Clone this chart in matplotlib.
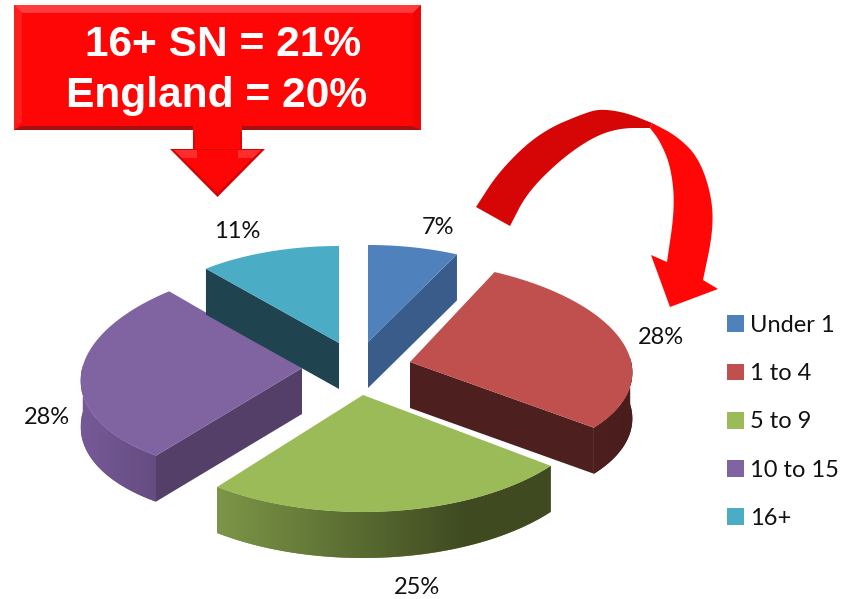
import numpy as np
import matplotlib
matplotlib.use("Agg")
import matplotlib.pyplot as plt
from matplotlib.patches import Polygon, Patch
from matplotlib.colors import LinearSegmentedColormap

# --- data ---
categories = ["Under 1", "1 to 4", "5 to 9", "10 to 15", "16+"]
values = [7, 28, 25, 28, 11]
callout_lines = ["16+ SN = 21%", "England = 20%"]

# --- style ---
top_colors = ["#4F81BD", "#C0504D", "#9BBB59", "#8064A2", "#4BACC6"]
side_colors = ["#3A5C8A", "#4D1F1E", "#5A6A30", "#533F68", "#1F444F"]
arc_gradients = [None, ("#4D1F1E", "#4A1D1C"), ("#7C9647", "#3F4A21"), ("#765A98", "#654C80"), None]

# --- layout (pixels of the picture) ---
tips = [(368, 342), (410, 362), (363, 395), (302, 368), (339, 343)]
radii = [(207, 97), (222, 102), (236, 117), (221, 106), (207, 97)]
shears = [(0, 0), (-12, 5), (0, 0), (12, -7), (0, 0)]
depth = 46
label_pos = [(438, 227), (661, 337), (417, 588), (47, 418), (237, 232)]
draw_order = [0, 4, 3, 1, 2]
callout_pos = [(223.5, 45.5), (217, 96.5)]

fig = plt.figure(figsize=(8.52, 5.99), dpi=100)
ax = fig.add_axes([0, 0, 1, 1])
ax.set_xlim(0, 852)
ax.set_ylim(599, 0)
ax.axis("off")


def rim(i, t):
    a, b = radii[i]
    c, d = shears[i]
    r = np.radians(t)
    return np.column_stack([tips[i][0] + a * np.sin(r) + c * np.cos(r),
                            tips[i][1] - b * np.cos(r) + d * np.sin(r)])


def extrude(points):
    low = points[::-1] + np.array([0, depth])
    return np.vstack([points, low])


edges = np.cumsum([0] + values) / sum(values) * 360.0

for i in draw_order:
    t1, t2 = edges[i], edges[i + 1]
    tip = np.array([tips[i]], dtype=float)
    if np.sin(np.radians(t1)) < -1e-6:
        ax.add_patch(Polygon(extrude(np.vstack([tip, rim(i, [t1])])), fc=side_colors[i], ec="none", zorder=2 + i))
    if np.sin(np.radians(t2)) > 1e-6:
        ax.add_patch(Polygon(extrude(np.vstack([tip, rim(i, [t2])])), fc=side_colors[i], ec="none", zorder=2 + i))
    lo, hi = max(t1, 85), min(t2, 275)
    if hi > lo and arc_gradients[i]:
        pts = rim(i, np.linspace(lo, hi, 80))
        patch = Polygon(extrude(pts), fc=arc_gradients[i][0], ec="none", zorder=2 + i)
        ax.add_patch(patch)
        x0, x1 = pts[:, 0].min(), pts[:, 0].max()
        y0, y1 = pts[:, 1].min(), pts[:, 1].max() + depth
        cmap = LinearSegmentedColormap.from_list("g", list(arc_gradients[i]))
        stop = 0.75 if i == 2 else 1.0
        g = np.clip(np.linspace(0, 1, 256) / stop, 0, 1)
        im = ax.imshow(g[None, :], extent=(x0, x1, y1, y0), aspect="auto", cmap=cmap, vmin=0, vmax=1, zorder=2 + i)
        im.set_clip_path(patch)
    top = np.vstack([tip, rim(i, np.linspace(t1, t2, 120))])
    ax.add_patch(Polygon(top, fc=top_colors[i], ec="none", zorder=2 + i + 0.5))

ax.set_xlim(0, 852)
ax.set_ylim(599, 0)

for v, (x, y) in zip(values, label_pos):
    ax.text(x, y, f"{v}%", ha="center", va="center", fontsize=17, family="Lato", color="#111111", zorder=20)

leg = ax.legend(
    handles=[Patch(fc=c, ec="none", label=n) for c, n in zip(top_colors, categories)],
    loc="upper left", bbox_to_anchor=(727 / 852, 1 - 315 / 599), bbox_transform=ax.transAxes,
    frameon=False, handlelength=0.72, handleheight=0.72,
    handletextpad=0.25, labelspacing=1.153, borderpad=0, borderaxespad=0, labelcolor="#111111",
    prop={"family": "Lato", "size": 17},
)


# --- red callout box ---
def poly(points, color, z=30):
    ax.add_patch(Polygon(points, fc=color, ec="none", zorder=z))


poly([(14, 5), (421, 5), (421, 130), (14, 130)], "#FF0606")
poly([(14, 5), (421, 5), (413, 13), (22, 13)], "#FF3C3C", 31)
poly([(14, 5), (22, 13), (22, 122), (14, 130)], "#FF1C1C", 31)
poly([(421, 5), (413, 13), (413, 122), (421, 130)], "#EE0505", 31)
poly([(14, 130), (22, 126), (413, 126), (421, 130)], "#A81010", 31)

# shaft and head of the box arrow
poly([(193, 122), (242, 122), (242, 149), (193, 149)], "#FF0606", 32)
poly([(170, 149), (265, 149), (217.5, 197)], "#D40404", 32)
poly([(174, 150), (261, 150), (217.5, 193)], "#FF0606", 33)
poly([(174, 150), (197, 150), (197, 158), (182, 158)], "#FF2E2E", 33)
poly([(261, 150), (238, 150), (238, 158), (253, 158)], "#FF2E2E", 33)
poly([(193, 132), (195, 132), (195, 150), (193, 150)], "#E00505", 34)
poly([(240, 132), (242, 132), (242, 150), (240, 150)], "#E00505", 34)

for line, (x, y) in zip(callout_lines, callout_pos):
    ax.text(x, y, line, ha="center", va="center", color="white", fontsize=30.6,
            fontweight="bold", family="Liberation Sans", zorder=40)


# --- curved arrow ---
def chaikin(points, n=3):
    p = np.array(points, dtype=float)
    for _ in range(n):
        q = 0.75 * p[:-1] + 0.25 * p[1:]
        r = 0.25 * p[:-1] + 0.75 * p[1:]
        p = np.vstack([p[:1], np.column_stack([q, r]).reshape(-1, 2), p[-1:]])
    return p


dark_outer = [(476, 207), (500, 170), (540, 132), (587, 112), (603, 109), (627, 113), (652, 123)]
dark_inner = [(650, 128), (620, 128), (593, 137), (560, 160), (527, 193), (510, 226)]
bright_outer = [(652, 123), (677, 136), (699, 158), (712, 197), (713, 232), (703, 280)]
bright_head = [(718, 289), (670, 307), (651, 255)]
bright_inner = [(667, 262), (675, 207), (671, 167), (660, 141), (650, 128)]

ax.add_patch(Polygon(np.vstack([chaikin(dark_outer), chaikin(dark_inner)]), fc="#D60606", ec="none", zorder=15))
ax.add_patch(Polygon(np.vstack([chaikin(bright_outer), bright_head, chaikin(bright_inner)]), fc="#FF0707", ec="none", zorder=16))

fig.savefig("out.png", dpi=100, facecolor="white")
